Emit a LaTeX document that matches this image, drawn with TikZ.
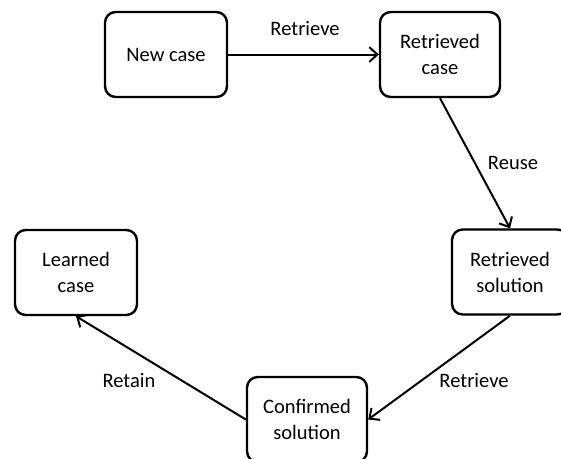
\documentclass[tikz,border=0pt]{standalone}
\usepackage{fontspec}
\setmainfont{Carlito}
\usetikzlibrary{arrows.meta}
\begin{document}
\begin{tikzpicture}[x=0.75pt,y=-0.75pt,
  state/.style={draw=black, line width=1.8pt, rounded corners=8pt,
    align=center, inner sep=0pt, minimum height=63.75pt,
    font=\fontsize{15.4}{19.5}\selectfont},
  flow/.style={draw=black, line width=1.5pt,
    -{Straight Barb[length=6pt,width=11pt,line width=1.5pt]}},
  tag/.style={font=\fontsize{15.4}{19.5}\selectfont, inner sep=0pt}]
  \useasboundingbox (0,0) rectangle (561,458);
  \clip (0,0) rectangle (561,458);

  % states of the cycle
  \node[state, minimum width=91.5pt] (nc) at (166,54.5) {New case};
  \node[state, minimum width=90pt]   (rc) at (440,54.5) {Retrieved\\case};
  \node[state, minimum width=87pt]   (rs) at (510,272)  {Retrieved\\solution};
  \node[state, minimum width=90pt]   (cs) at (307,419.5) {Confirmed\\solution};
  \node[state, minimum width=91.5pt] (lc) at (76,272.5) {Learned\\case};

  % transitions
  \draw[flow] (nc.east) -- (rc.west);
  \draw[flow] (rc.south) -- (rs.north);
  \draw[flow] (rs.south) -- (cs.east);
  \draw[flow] (cs.west) -- (lc.south);

  % transition labels
  \node[tag] (l1) at (305,29)  {Retrieve};
  \node[tag] (l2) at (513,163) {Reuse};
  \node[tag] (l3) at (474,381) {Retrieve};
  \node[tag] (l4) at (129,381) {Retain};
\end{tikzpicture}
\end{document}
